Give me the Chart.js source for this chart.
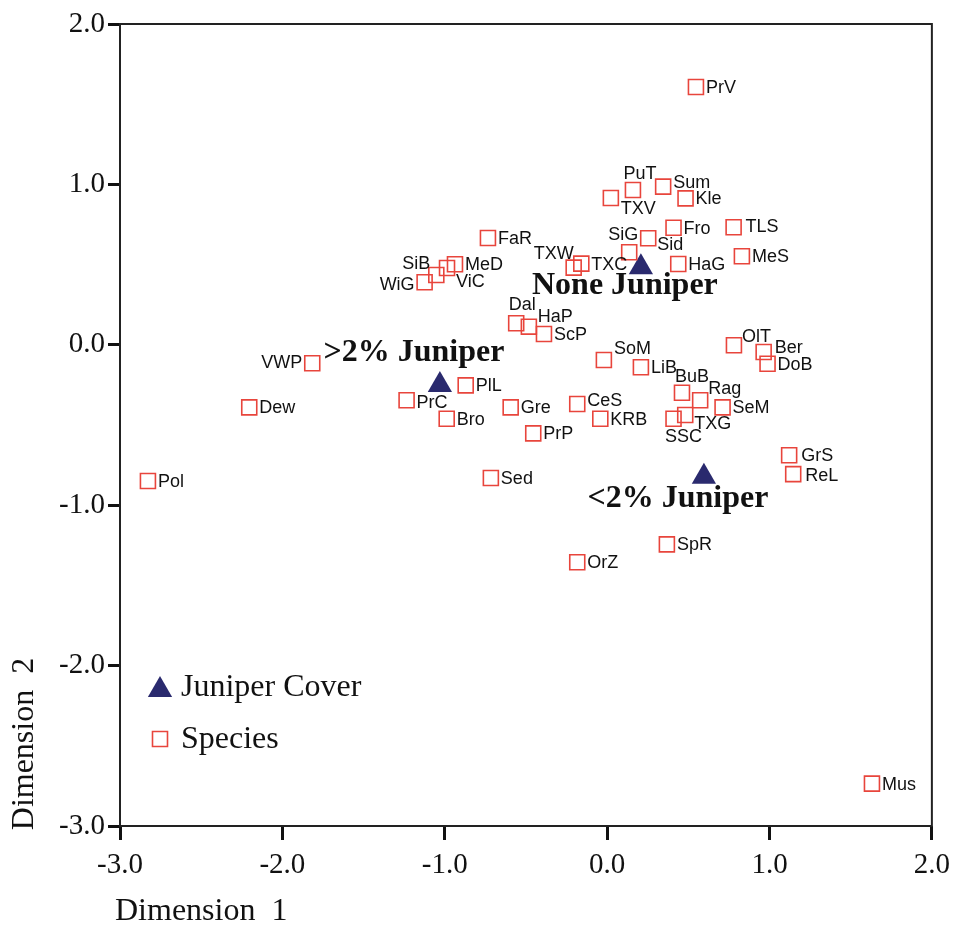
<!DOCTYPE html>
<html>
<head>
<meta charset="utf-8">
<script src="https://cdn.jsdelivr.net/npm/chart.js@4.4.0/dist/chart.umd.min.js"></script>
<style>
  html, body { margin: 0; padding: 0; background: #fff; }
</style>
</head>
<body>
<canvas id="mds" width="958" height="928"></canvas>
<script>
// Species scores on the two MDS dimensions
const speciesNames = ["PrV", "PuT", "Sum", "Kle", "TXV", "FaR", "Fro", "TLS", "SiG", "Sid",
  "HaG", "MeS", "TXW", "TXC", "WiG", "SiB", "ViC", "MeD", "Dal", "HaP",
  "ScP", "SoM", "LiB", "OlT", "Ber", "DoB", "BuB", "Rag", "SeM", "TXG",
  "SSC", "CeS", "KRB", "GrS", "ReL", "SpR", "OrZ", "PlL", "PrC", "Bro",
  "Gre", "PrP", "Sed", "VWP", "Dew", "Pol", "Mus"];
const speciesDim1 = [0.547, 0.159, 0.345, 0.483, 0.023, -0.734, 0.409, 0.779, 0.136, 0.253,
  0.438, 0.830, -0.206, -0.159, -1.124, -1.052, -0.986, -0.937, -0.560, -0.482,
  -0.389, -0.020, 0.208, 0.781, 0.964, 0.988, 0.461, 0.573, 0.711, 0.481,
  0.409, -0.184, -0.042, 1.121, 1.146, 0.368, -0.184, -0.871, -1.235, -0.988,
  -0.594, -0.455, -0.716, -1.816, -2.204, -2.828, 1.631];
const speciesDim2 = [1.607, 0.965, 0.986, 0.913, 0.915, 0.666, 0.730, 0.733, 0.577, 0.664,
  0.504, 0.552, 0.481, 0.506, 0.390, 0.435, 0.479, 0.502, 0.134, 0.113,
  0.067, -0.095, -0.140, -0.003, -0.045, -0.118, -0.299, -0.346, -0.390, -0.438,
  -0.461, -0.369, -0.461, -0.689, -0.806, -1.244, -1.356, -0.253, -0.346, -0.461,
  -0.390, -0.552, -0.830, -0.115, -0.390, -0.849, -2.736];

// Juniper cover classes
const coverNames = ["None Juniper", ">2% Juniper", "<2% Juniper"];
const coverDim1 = [0.208, -1.030, 0.596];
const coverDim2 = [0.483, -0.251, -0.822];

const dim1Ticks = [-3, -2, -1, 0, 1, 2];
const dim2Ticks = [-3, -2, -1, 0, 1, 2];

const RED = "#e8453c";
const NAVY = "#2a2a6e";
const SERIF = "'Liberation Serif', 'Times New Roman', serif";
const SANS = "'Liberation Sans', Arial, sans-serif";

// label nudges [dx, dy, align]; anything not listed sits to the right of its square
const labelNudge = {
  PuT: [7, -16, "center"], Sum: [10, -4, "left"], TXV: [10, 11, "left"],
  SiG: [-6, -17, "center"], Sid: [9, 7, "left"], TXW: [0, -14, "right"],
  WiG: [-10, 3, "right"], SiB: [-6, -11, "right"], ViC: [9, 14, "left"],
  Dal: [6, -18, "center"], HaP: [9, -10, "left"], SoM: [10, -11, "left"],
  OlT: [8, -8, "left"], Ber: [11, -4, "left"], BuB: [10, -16, "center"],
  Rag: [8, -11, "left"], TXG: [9, 9, "left"], SSC: [10, 18, "center"],
  CeS: [10, -3, "left"], PrC: [10, 3, "left"], VWP: [-10, 0, "right"],
  GrS: [12, 1, "left"], ReL: [12, 2, "left"], TLS: [12, 0, "left"]
};
const coverNudge = [[-16, 18], [-26, -32], [-26, 22]];

const pointLabels = {
  id: "pointLabels",
  afterDatasetsDraw(chart) {
    const ctx = chart.ctx;
    ctx.save();
    ctx.textBaseline = "middle";
    ctx.fillStyle = "#111";
    ctx.font = "18px " + SANS;
    chart.getDatasetMeta(0).data.forEach((pt, i) => {
      const name = speciesNames[i];
      const [dx, dy, align] = labelNudge[name] || [10, 1, "left"];
      ctx.textAlign = align;
      ctx.fillText(name, pt.x + dx, pt.y + dy);
    });
    ctx.font = "bold 32px " + SERIF;
    ctx.textAlign = "center";
    chart.getDatasetMeta(1).data.forEach((pt, i) => {
      ctx.fillText(coverNames[i], pt.x + coverNudge[i][0], pt.y + coverNudge[i][1]);
    });
    ctx.restore();
  }
};

// box, axis titles and the key
const frame = {
  id: "frame",
  afterDraw(chart) {
    const { ctx, chartArea: a } = chart;
    ctx.save();
    ctx.strokeStyle = "#222";
    ctx.lineWidth = 2;
    ctx.strokeRect(a.left, a.top, a.right - a.left, a.bottom - a.top);

    ctx.fillStyle = "#111";
    ctx.font = "32px " + SERIF;
    ctx.textBaseline = "middle";
    ctx.textAlign = "left";
    ctx.fillText("Dimension  1", 115, 912);
    ctx.save();
    ctx.translate(25, 744);
    ctx.rotate(-Math.PI / 2);
    ctx.textAlign = "center";
    ctx.fillText("Dimension  2", 0, 0);
    ctx.restore();

    const keyX = a.left + 40;
    const keys = [
      { text: "Juniper Cover", y: a.top + 663, style: "triangle", r: 14, fill: NAVY, stroke: NAVY, bw: 0 },
      { text: "Species", y: a.top + 715, style: "rect", r: 10.6, fill: "rgba(0,0,0,0)", stroke: RED, bw: 1.6 }
    ];
    keys.forEach(k => {
      ctx.fillStyle = k.fill;
      ctx.strokeStyle = k.stroke;
      ctx.lineWidth = k.bw;
      Chart.helpers.drawPoint(ctx, { pointStyle: k.style, radius: k.r, rotation: 0, borderWidth: k.bw }, keyX, k.y + (k.style === "triangle" ? 3 : 0));
      ctx.fillStyle = "#111";
      ctx.font = "32px " + SERIF;
      ctx.textAlign = "left";
      ctx.fillText(k.text, keyX + 21, k.y + 1);
    });
    ctx.restore();
  }
};

const tickFmt = v => (+v).toFixed(1);

new Chart(document.getElementById("mds"), {
  type: "scatter",
  data: {
    datasets: [
      {
        label: "Species",
        data: speciesNames.map((n, i) => ({ x: speciesDim1[i], y: speciesDim2[i] })),
        pointStyle: "rect",
        pointRadius: 10.6,
        borderColor: RED,
        backgroundColor: "rgba(0,0,0,0)",
        borderWidth: 1.6
      },
      {
        label: "Juniper Cover",
        data: coverNames.map((n, i) => ({ x: coverDim1[i], y: coverDim2[i] })),
        pointStyle: "triangle",
        pointRadius: 14,
        backgroundColor: NAVY,
        borderColor: NAVY,
        borderWidth: 0
      }
    ]
  },
  options: {
    responsive: false,
    animation: false,
    events: [],
    layout: { padding: { top: 24, right: 26, left: 0, bottom: 0 } },
    plugins: { legend: { display: false }, tooltip: { enabled: false } },
    scales: {
      x: {
        type: "linear",
        min: -3, max: 2,
        afterBuildTicks: s => { s.ticks = dim1Ticks.map(v => ({ value: v })); },
        afterFit: s => { s.height = 102; },
        border: { display: false },
        grid: { drawOnChartArea: false, drawTicks: true, tickLength: 14, tickWidth: 3, tickColor: "#111" },
        ticks: { color: "#111", padding: 8, font: { family: SERIF, size: 29 }, callback: tickFmt, maxRotation: 0 }
      },
      y: {
        type: "linear",
        min: -3, max: 2,
        afterBuildTicks: s => { s.ticks = dim2Ticks.map(v => ({ value: v })); },
        afterFit: s => { s.width = 120; },
        border: { display: false },
        grid: { drawOnChartArea: false, drawTicks: true, tickLength: 12, tickWidth: 3, tickColor: "#111" },
        ticks: { color: "#111", padding: 3, font: { family: SERIF, size: 29 }, callback: tickFmt }
      }
    }
  },
  plugins: [pointLabels, frame]
});
</script>
</body>
</html>
